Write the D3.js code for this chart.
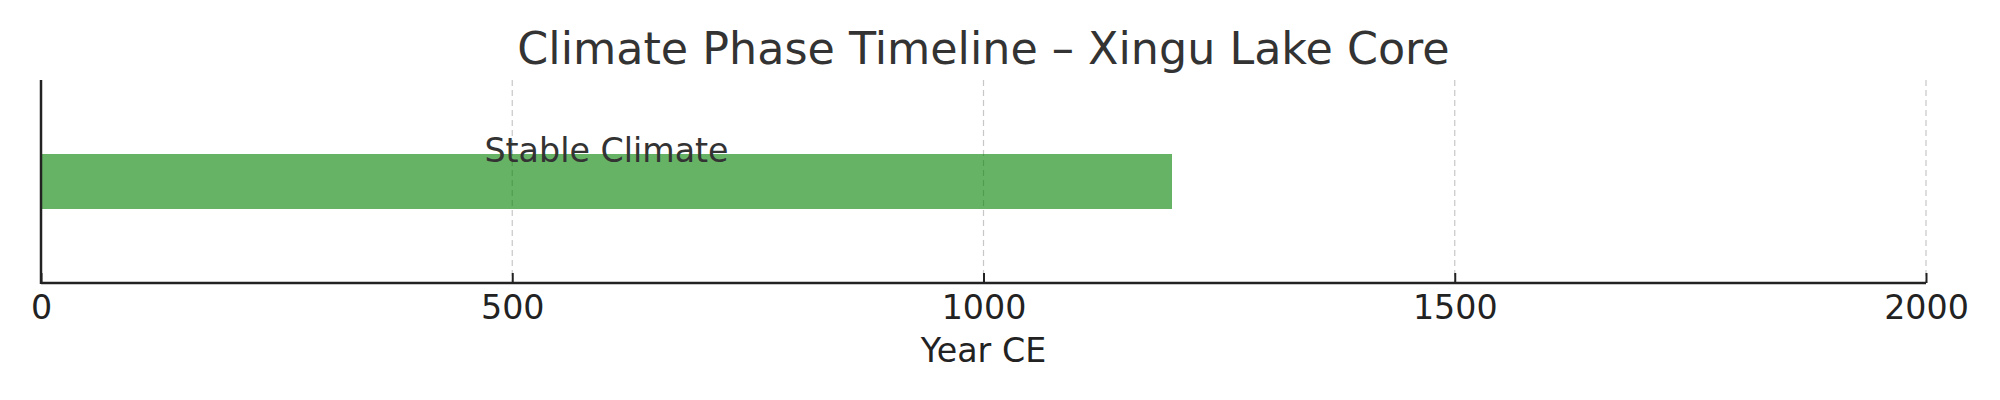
<!DOCTYPE html>
<html><head><meta charset="utf-8">
<script src="https://cdn.jsdelivr.net/npm/d3@7"></script>
<style>body{margin:0;background:#fff}svg{display:block}</style>
</head><body>
<svg id="c" width="2000" height="400"></svg>
<script>
const phases = ["Stable Climate"];
const phaseStart = [0];
const phaseEnd = [1200];
const xTicks = [0, 500, 1000, 1500, 2000];
const title = "Climate Phase Timeline – Xingu Lake Core";
const xLabel = "Year CE";

const svg = d3.select("#c");
const font = "DejaVu Sans, sans-serif";
const L = 41, R = 1926, T = 80, B = 283;
const x = d3.scaleLinear().domain([0, 2000]).range([L, R]);
const y = d3.scaleBand().domain(phases).range([T, B]).paddingInner(0).paddingOuter(0.5);

// grid
svg.append("g").selectAll("line").data(xTicks).join("line")
  .attr("x1", d => x(d)).attr("x2", d => x(d)).attr("y1", T).attr("y2", B)
  .attr("stroke", "#b0b0b0").attr("stroke-width", 1.2).attr("stroke-dasharray", "6,4").attr("opacity", 0.7);

// bars
const barH = 55;
svg.append("g").selectAll("rect").data(phases).join("rect")
  .attr("x", (d, i) => x(phaseStart[i]))
  .attr("width", (d, i) => x(phaseEnd[i]) - x(phaseStart[i]))
  .attr("y", d => y(d) + y.bandwidth() / 2 - barH / 2)
  .attr("height", barH)
  .attr("fill", "green").attr("fill-opacity", 0.6);

svg.append("g").selectAll("text").data(phases).join("text")
  .attr("x", (d, i) => x((phaseStart[i] + phaseEnd[i]) / 2))
  .attr("y", d => y(d) + y.bandwidth() / 2 - barH / 2 + 8)
  .attr("text-anchor", "middle")
  .attr("font-family", font).attr("font-size", 33.3).attr("fill", "#333")
  .text(d => d);

// x axis
const ax = svg.append("g").attr("transform", `translate(0,${B})`)
  .call(d3.axisBottom(x).tickValues(xTicks).tickSize(10).tickPadding(2).tickFormat(d3.format("d")));
ax.select(".domain").attr("stroke", "#222").attr("stroke-width", 2.5).attr("d", `M${L},0H${R}`);
ax.selectAll(".tick line").attr("stroke", "#222").attr("stroke-width", 2).attr("y1", 0).attr("y2", -10);
ax.selectAll(".tick text").attr("font-family", font).attr("font-size", 33.3).attr("fill", "#222");

// left spine
svg.append("line").attr("x1", L).attr("x2", L).attr("y1", T).attr("y2", B + 1)
  .attr("stroke", "#222").attr("stroke-width", 2.5);

svg.append("text").attr("x", (L + R) / 2).attr("y", 362).attr("text-anchor", "middle")
  .attr("font-family", font).attr("font-size", 33.3).attr("fill", "#222").text(xLabel);

svg.append("text").attr("x", (L + R) / 2).attr("y", 64).attr("text-anchor", "middle")
  .attr("font-family", font).attr("font-size", 44.4).attr("fill", "#333").text(title);
</script>
</body></html>
